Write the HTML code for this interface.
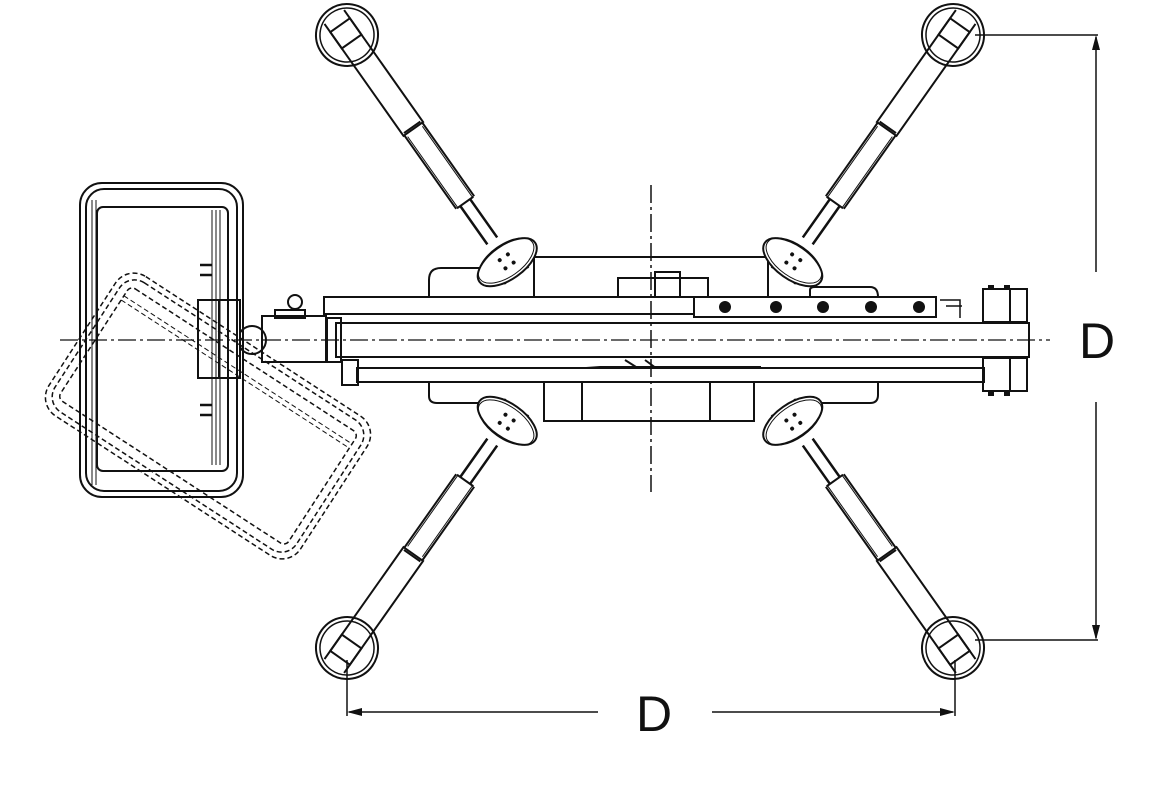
<!DOCTYPE html>
<html><head><meta charset="utf-8"><style>
html,body{margin:0;padding:0;background:#fff;width:1165px;height:790px;overflow:hidden}
svg{display:block}
text{font-family:"Liberation Sans",sans-serif}
</style></head><body>
<svg width="1165" height="790" viewBox="0 0 1165 790" xmlns="http://www.w3.org/2000/svg" fill="none" stroke="#111" stroke-width="2">
<defs>
<g id="leg">
  <circle cx="0" cy="0" r="31"/>
  <circle cx="0" cy="0" r="27" stroke-width="1.5"/>
  <path d="M-22,-12 L115,-12 L115,12 L-22,12"/>
  <rect x="-12" y="-12" width="20" height="24"/>
  <path d="M115,-11 L205,-11 M115,11 L205,11 M113,-10 L113,10 M205,-10 L205,10"/>
  <path d="M118,-9 L205,-9 M118,9 L205,9" stroke-width="1"/>
  <path d="M205,-6 L252,-6 M205,6 L252,6" stroke-width="2.5"/>
  <path d="M262,-10 L295,-14 M262,10 L295,14"/>
  <ellipse cx="278" cy="0" rx="17" ry="34" fill="#fff"/>
  <ellipse cx="276" cy="0" rx="16" ry="32" stroke-width="1"/>
  <circle cx="272" cy="-5" r="2" fill="#111" stroke="none"/>
  <circle cx="272" cy="5" r="2" fill="#111" stroke="none"/>
  <circle cx="282" cy="-5" r="2" fill="#111" stroke="none"/>
  <circle cx="282" cy="5" r="2" fill="#111" stroke="none"/>
</g>
</defs>

<path d="M534,297 L534,257 L768,257 L768,297"/>
<path d="M429,297 L429,280 Q429,268 441,268 L490,268"/>
<path d="M810,297 L810,290 Q810,287 815,287 L870,287 Q878,287 878,297"/>
<path d="M544,382 L544,421 L754,421 L754,382 M582,382 L582,421 M710,382 L710,421"/>
<path d="M429,382 L429,396 Q429,403 437,403 L490,403"/>
<path d="M820,403 L870,403 Q878,403 878,395 L878,382"/>
<rect x="618" y="278" width="90" height="19"/>
<rect x="655" y="272" width="25" height="25"/>

<rect x="324" y="297" width="370" height="17" fill="#fff"/>
<rect x="694" y="297" width="242" height="20" fill="#fff"/>
<g fill="#111" stroke="none">
<circle cx="725" cy="307" r="6"/><circle cx="776" cy="307" r="6"/><circle cx="823" cy="307" r="6"/><circle cx="871" cy="307" r="6"/><circle cx="919" cy="307" r="6"/>
</g>
<rect x="983" y="289" width="44" height="33"/>
<path d="M1010,289 L1010,322"/>
<path d="M940,300 L960,300 L960,318 M946,306 L962,306" stroke-width="1.5"/>
<rect x="336" y="323" width="693" height="34" fill="#fff"/>
<rect x="327" y="318" width="14" height="44"/>
<path d="M420,380 L600,367 L760,367 L760,382"/>
<path d="M625,360 L660,382 M645,360 L675,382"/>
<rect x="357" y="368" width="627" height="14" fill="#fff"/>
<rect x="983" y="358" width="44" height="33"/>
<path d="M1010,358 L1010,391"/>
<g fill="#111" stroke="none">
<rect x="988" y="285" width="6" height="5"/><rect x="1004" y="285" width="6" height="5"/>
<rect x="988" y="391" width="6" height="5"/><rect x="1004" y="391" width="6" height="5"/>
</g>
<rect x="342" y="360" width="16" height="25"/>

<rect x="262" y="316" width="64" height="46"/>
<rect x="275" y="310" width="30" height="8"/>
<circle cx="295" cy="302" r="7"/>
<circle cx="252" cy="340" r="14"/>
<rect x="198" y="300" width="42" height="78" fill="#fff"/>
<path d="M219,300 L219,378"/>

<rect x="80" y="183" width="163" height="314" rx="22"/>
<rect x="86" y="189" width="151" height="302" rx="18"/>
<rect x="97" y="207" width="131" height="264" rx="6"/>
<path d="M212,210 L212,465 M216,210 L216,465 M220,210 L220,465" stroke-width="1"/>
<path d="M92,200 L92,485 M96,200 L96,485" stroke-width="1"/>
<path d="M200,265 L212,265 M200,275 L212,275 M200,405 L212,405 M200,415 L212,415" stroke-width="2.5"/>

<g transform="rotate(33 208 416)" stroke-dasharray="5 3" stroke-width="1.5">
<rect x="58" y="333" width="300" height="166" rx="22"/>
<rect x="64" y="339" width="288" height="154" rx="18"/>
<rect x="72" y="349" width="272" height="134" rx="6"/>
<path d="M72,361 L344,361 M72,366 L344,366" stroke-width="1"/>
</g>

<path d="M60,340 L1050,340" stroke-width="1.2" stroke-dasharray="18 4 3 4"/>
<path d="M651,185 L651,492" stroke-width="1.5" stroke-dasharray="18 4 3 4"/>

<use href="#leg" transform="translate(347,35) rotate(54.8)"/>
<use href="#leg" transform="translate(953,35) rotate(125.2)"/>
<use href="#leg" transform="translate(347,648) rotate(-54.8)"/>
<use href="#leg" transform="translate(953,648) rotate(-125.2)"/>

<g stroke-width="1.5">
<path d="M975,35 L1098,35 M975,640 L1098,640"/>
<path d="M1096,37 L1096,272 M1096,402 L1096,638"/>
<path d="M347,660 L347,716 M955,660 L955,716"/>
<path d="M349,712 L598,712 M712,712 L953,712"/>
</g>
<g fill="#111" stroke="none">
<path d="M1096,35 L1092,50 L1100,50Z"/>
<path d="M1096,640 L1092,625 L1100,625Z"/>
<path d="M347,712 L362,708 L362,716Z"/>
<path d="M955,712 L940,708 L940,716Z"/>
</g>
<text x="1097" y="358" font-size="50" text-anchor="middle" fill="#111" stroke="none">D</text>
<text x="654" y="731" font-size="50" text-anchor="middle" fill="#111" stroke="none">D</text>
</svg>
</body></html>
